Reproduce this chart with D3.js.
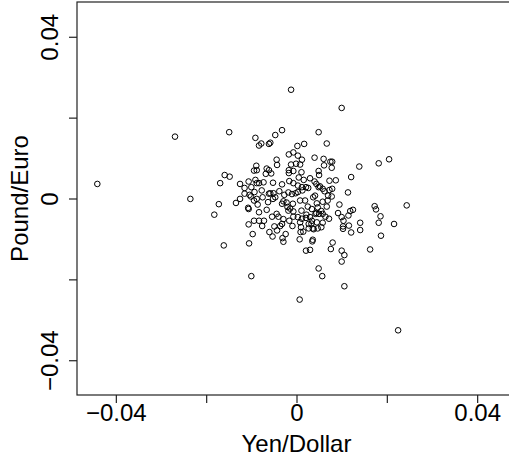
<!DOCTYPE html>
<html>
<head>
<meta charset="utf-8">
<script src="https://cdn.jsdelivr.net/npm/d3@7"></script>
<style>
  body { margin: 0; background: #fff; }
  svg { display: block; font-family: 'Liberation Sans', Arial, sans-serif; }
</style>
</head>
<body>
<svg id="chart" width="509" height="462"></svg>
<script>
// daily returns
var yenDollar = [
  -0.0441, -0.0269, -0.0235, -0.0012, 0.0100, 0.0225, 0.0007, -0.0100, 0.0106, 0.0049,
  0.0057, -0.0149, -0.0091, -0.0032, -0.0047, 0.0049, 0.0067, 0.0017, 0.0002, -0.0083,
  -0.0078, -0.0061, -0.0058, 0.0205, 0.0182, 0.0139, 0.0244, 0.0216, 0.0187, 0.0163,
  0.0186, 0.0182, 0.0173, 0.0176, 0.0141, 0.0141, 0.0121, 0.0114, 0.0121, 0.0100,
  0.0106, 0.0100, 0.0076, 0.0080, -0.0161, -0.0105, -0.0097, -0.0182, -0.0172, -0.0169,
  -0.0159, -0.0148, -0.0134, -0.0125, 0.0021, 0.0030, -0.0029, -0.0031, -0.0024, -0.0053,
  0.0007, 0.0036, 0.0035,
  -0.0017, -0.0007, 0.0003, 0.0012, 0.0008, -0.0001, -0.0012, -0.0044, -0.0043, 0.0040,
  0.0060, 0.0079, 0.0075, 0.0061, 0.0078,
  -0.0089, -0.0088, -0.0094, -0.0066, -0.0061, -0.0056, -0.0068, -0.0017, -0.0017, -0.0007,
  0.0011, 0.0030, 0.0049, 0.0050, 0.0087, 0.0073,
  -0.0125, -0.0106, -0.0115, -0.0091, -0.0088, -0.0100, -0.0083, -0.0073, -0.0052, -0.0032,
  -0.0016, -0.0007, 0.0003, 0.0012, 0.0021, 0.0040, 0.0044, 0.0058, 0.0062, 0.0079,
  0.0073, 0.0070, -0.0093, -0.0077, -0.0061, -0.0051, -0.0047, -0.0058, -0.0027, -0.0018,
  -0.0002, 0.0003, 0.0013, 0.0026, 0.0041, 0.0037, 0.0049, -0.0104, -0.0115, -0.0101,
  -0.0088,
  -0.0029, -0.0032, -0.0020, -0.0014, -0.0008, 0.0008, 0.0019, 0.0025, 0.0045, 0.0058,
  0.0069, 0.0078, 0.0095, -0.0018, -0.0007, 0.0011, 0.0034, 0.0044, 0.0055, 0.0067,
  -0.0086, -0.0083, -0.0107, -0.0106, -0.0066, -0.0094, -0.0075, -0.0063, -0.0052,
  -0.0044, -0.0040, -0.0007, 0.0003, 0.0012, 0.0021, 0.0030, 0.0042, 0.0050, 0.0058,
  0.0034, 0.0027, 0.0045, 0.0058, 0.0072, 0.0092, 0.0100, 0.0115, 0.0104, 0.0103,
  0.0103, 0.0116, 0.0119, 0.0125, -0.0083, -0.0094, -0.0072, -0.0054, -0.0049, -0.0036,
  -0.0029, -0.0032, -0.0016, -0.0009, 0.0008, 0.0010, 0.0027, 0.0038, 0.0047, 0.0055,
  -0.0106, -0.0076, -0.0060, -0.0043, 0.0009, 0.0015, 0.0036,
  -0.0022, 0.0005, 0.0016, -0.0038, 0.0047, 0.0064, 0.0033, -0.0010, 0.0022, 0.0052
];
var poundEuro = [
  0.0036, 0.0153, -0.0001, 0.0269, 0.0224, -0.0326, -0.0250, -0.0192, -0.0217, -0.0173,
  -0.0192, 0.0164, 0.0150, 0.0169, 0.0157, 0.0164, 0.0136, 0.0135, 0.0130, 0.0131,
  0.0136, 0.0135, 0.0138, 0.0097, 0.0087, 0.0079, -0.0017, -0.0063, -0.0092, -0.0126,
  -0.0044, -0.0060, -0.0019, -0.0027, -0.0060, -0.0078, -0.0084, 0.0015, 0.0053, -0.0129,
  -0.0140, -0.0156, -0.0125, -0.0109, -0.0116, -0.0111, -0.0088, -0.0040, -0.0014, 0.0038,
  0.0058, 0.0054, -0.0011, -0.0001, -0.0129, -0.0127, -0.0107, -0.0098, -0.0088, -0.0094,
  -0.0101, -0.0102, -0.0106,
  0.0109, 0.0114, 0.0106, 0.0096, 0.0084, 0.0086, 0.0084, 0.0096, 0.0083, 0.0101,
  0.0098, 0.0091, 0.0091, 0.0082, 0.0076,
  0.0081, 0.0070, 0.0069, 0.0074, 0.0070, 0.0062, 0.0061, 0.0070, 0.0063, 0.0068,
  0.0065, 0.0050, 0.0068, 0.0058, 0.0045, 0.0044,
  0.0036, 0.0042, 0.0026, 0.0046, 0.0038, 0.0028, 0.0038, 0.0040, 0.0039, 0.0035,
  0.0043, 0.0038, 0.0032, 0.0028, 0.0028, 0.0042, 0.0036, 0.0024, 0.0018, 0.0024,
  0.0021, 0.0007, 0.0016, 0.0020, 0.0012, 0.0013, 0.0003, 0.0013, 0.0009, 0.0015,
  0.0013, 0.0016, 0.0020, 0.0026, 0.0007, 0.0003, 0.0028, 0.0009, 0.0012, 0.0005,
  -0.0001,
  -0.0007, -0.0013, -0.0021, -0.0025, -0.0013, -0.0005, -0.0005, -0.0020, -0.0012, -0.0008,
  -0.0005, 0.0005, -0.0015, -0.0030, -0.0032, -0.0030, -0.0026, -0.0036, -0.0031, -0.0020,
  -0.0015, -0.0034, -0.0023, -0.0026, -0.0028, -0.0005, 0.0003, -0.0009, -0.0001,
  -0.0038, -0.0045, -0.0045, -0.0046, -0.0050, -0.0048, -0.0046, -0.0038, -0.0038, -0.0038,
  -0.0055, -0.0063, -0.0059, -0.0060, -0.0050, -0.0036, -0.0046, -0.0042, -0.0055, -0.0069,
  -0.0075, -0.0067, -0.0031, -0.0028, -0.0055, -0.0055, -0.0055, -0.0045, -0.0069, -0.0068,
  -0.0051, -0.0063, -0.0055, -0.0068, -0.0059, -0.0071, -0.0074, -0.0076, -0.0074, -0.0071,
  -0.0064, -0.0068, -0.0083, -0.0079, -0.0083, -0.0082, -0.0074,
  -0.0010, 0.0052, 0.0046, 0.0018, -0.0022, -0.0045, -0.0062, 0.0011, -0.0040, 0.0030
];
var tickValues = [-0.04, -0.02, 0, 0.02, 0.04];
var labelValues = [-0.04, 0, 0.04];
var xTitle = 'Yen/Dollar';
var yTitle = 'Pound/Euro';

var points = yenDollar.map(function (d, i) {
  return { x: d, y: poundEuro[i] };
});

var svg = d3.select('#chart');

var xScale = d3.scaleLinear()
  .domain([-0.0486, 0.0486])
  .range([77, 516]);
var yScale = d3.scaleLinear()
  .domain([-0.0486, 0.0486])
  .range([395, 2]);

var fmt = function (d) {
  return d === 0 ? '0' : d3.format('.2f')(d).replace('-', '\u2212');
};

// points
svg.append('g')
  .selectAll('circle')
  .data(points)
  .enter()
  .append('circle')
  .attr('cx', function (d) { return xScale(d.x); })
  .attr('cy', function (d) { return yScale(d.y); })
  .attr('r', 2.8)
  .attr('fill', 'none')
  .attr('stroke', '#000')
  .attr('stroke-width', 1);

// box
svg.append('rect')
  .attr('x', xScale.range()[0])
  .attr('y', yScale.range()[1])
  .attr('width', xScale.range()[1] - xScale.range()[0])
  .attr('height', yScale.range()[0] - yScale.range()[1])
  .attr('fill', 'none')
  .attr('stroke', '#222')
  .attr('stroke-width', 1.2);

// axes
var xAxis = d3.axisBottom(xScale)
  .tickValues(tickValues)
  .tickSize(8)
  .tickFormat(function (d) { return labelValues.indexOf(d) >= 0 ? fmt(d) : ''; });
var yAxis = d3.axisLeft(yScale)
  .tickValues(tickValues)
  .tickSize(8)
  .tickFormat(function (d) { return labelValues.indexOf(d) >= 0 ? fmt(d) : ''; });

var gx = svg.append('g')
  .attr('transform', 'translate(0, ' + yScale.range()[0] + ')')
  .call(xAxis);
gx.select('.domain').remove();
gx.selectAll('line').attr('stroke', '#222').attr('stroke-width', 1.2);
gx.selectAll('text')
  .attr('y', 26)
  .attr('dy', 0)
  .attr('font-size', '24px')
  .attr('font-family', 'Liberation Sans, Arial, sans-serif')
  .attr('fill', '#000');

var gy = svg.append('g')
  .attr('transform', 'translate(' + xScale.range()[0] + ', 0)')
  .call(yAxis);
gy.select('.domain').remove();
gy.selectAll('line').attr('stroke', '#222').attr('stroke-width', 1.2);
gy.selectAll('text')
  .attr('x', 0)
  .attr('y', 0)
  .attr('dy', 0)
  .attr('text-anchor', 'middle')
  .attr('transform', 'translate(-19, 0) rotate(-90)')
  .attr('font-size', '24px')
  .attr('font-family', 'Liberation Sans, Arial, sans-serif')
  .attr('fill', '#000');

// titles
svg.append('text')
  .attr('x', xScale(0))
  .attr('y', 452)
  .attr('text-anchor', 'middle')
  .attr('font-size', '24px')
  .attr('fill', '#000')
  .text(xTitle);
svg.append('text')
  .attr('transform', 'translate(28, ' + yScale(0) + ') rotate(-90)')
  .attr('text-anchor', 'middle')
  .attr('font-size', '24px')
  .attr('fill', '#000')
  .text(yTitle);
</script>
</body>
</html>
